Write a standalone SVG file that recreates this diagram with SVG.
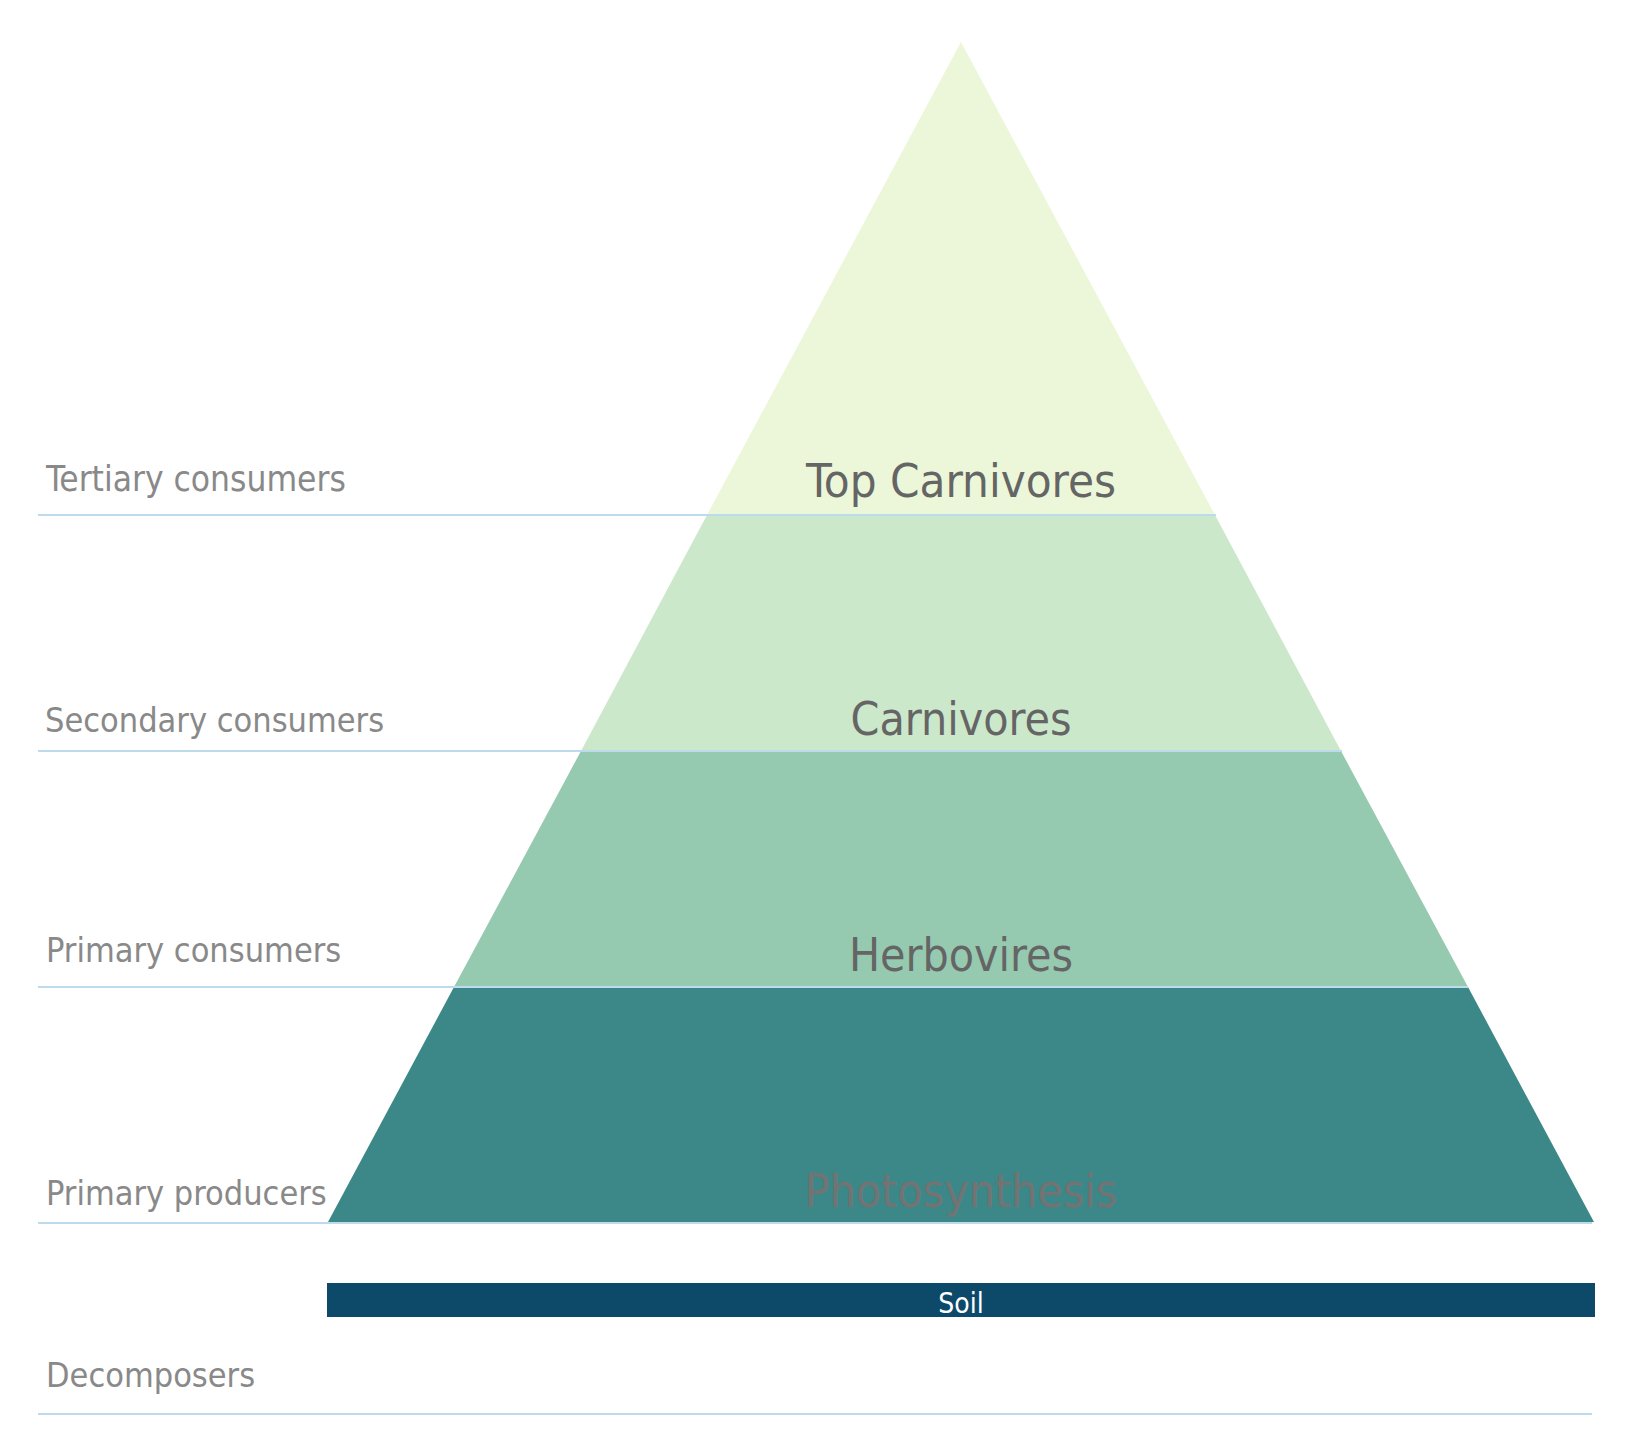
<svg xmlns="http://www.w3.org/2000/svg" width="1632" height="1452" viewBox="0 0 1632 1452">
<style>
.side{font-family:"DejaVu Sans Condensed","DejaVu Sans",sans-serif;font-stretch:condensed;font-size:34px;fill:#898989}
.mid{font-family:"DejaVu Sans Condensed","DejaVu Sans",sans-serif;font-stretch:condensed;font-size:46px;fill:#656565;text-anchor:middle}
.soil{font-family:"DejaVu Sans Condensed","DejaVu Sans",sans-serif;font-stretch:condensed;font-size:28px;fill:#ffffff;text-anchor:middle}
.rule{stroke:#bcdcee;stroke-width:2;fill:none}
</style>
<rect width="1632" height="1452" fill="#ffffff"/>
<g id="layer-top">
<polygon points="961,42 1215,515 707,515" fill="#ecf7d9"/>
<text class="mid" x="961" y="497" textLength="310" lengthAdjust="spacingAndGlyphs">Top Carnivores</text>
</g>
<g id="layer-carnivores">
<polygon points="707,515 1215,515 1341,751 581,751" fill="#cce8cb"/>
<text class="mid" x="961" y="735">Carnivores</text>
</g>
<g id="layer-herbivores">
<polygon points="581,751 1341,751 1468,987 454,987" fill="#96cab0"/>
<text class="mid" x="961" y="971">Herbovires</text>
</g>
<g id="layer-producers">
<polygon points="454,987 1468,987 1594,1222 328,1222" fill="#3c8787"/>
<text class="mid" x="961" y="1207" style="fill:#737373">Photosynthesis</text>
</g>
<g id="soil">
<rect x="327" y="1283" width="1268" height="34" fill="#0d4a6a"/>
<text class="soil" x="961" y="1313">Soil</text>
</g>
<g id="rules">
<line class="rule" x1="38" y1="515" x2="1216" y2="515"/>
<line class="rule" x1="38" y1="751" x2="1342" y2="751"/>
<line class="rule" x1="38" y1="987" x2="1468" y2="987"/>
<line class="rule" x1="38" y1="1223" x2="1592" y2="1223"/>
<line class="rule" x1="38" y1="1414" x2="1592" y2="1414"/>
</g>
<g id="labels">
<text class="side" x="46" y="491" style="font-size:35px">Tertiary consumers</text>
<text class="side" x="45" y="732">Secondary consumers</text>
<text class="side" x="46" y="962">Primary consumers</text>
<text class="side" x="46" y="1205">Primary producers</text>
<text class="side" x="46" y="1387">Decomposers</text>
</g>
</svg>
